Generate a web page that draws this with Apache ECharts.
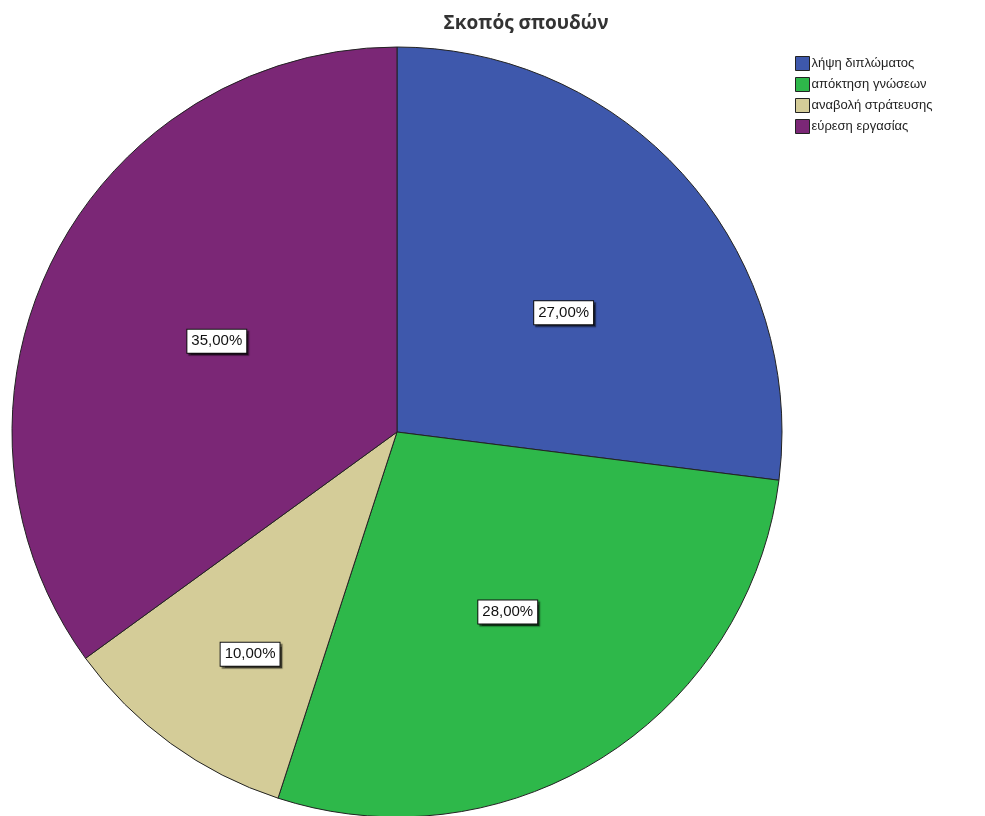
<!DOCTYPE html>
<html><head><meta charset="utf-8">
<script src="https://cdn.jsdelivr.net/npm/echarts@6/dist/echarts.min.js"></script>
<style>html,body{margin:0;padding:0;background:#fff}#c{width:985px;height:816px}</style>
</head><body><div id="c"></div>
<script>
const categories = ["λήψη διπλώματος", "απόκτηση γνώσεων", "αναβολή στράτευσης", "εύρεση εργασίας"];
const values = [27, 28, 10, 35];
const colors = ["#3E58AC", "#2EB84A", "#D4CC98", "#7B2776"];
const labelOffsets = [[20, 10], [6, 15], [-32, 64], [-6, -2]];
const chart = echarts.init(document.getElementById('c'));
chart.setOption({
  animation: false,
  title: {text: "Σκοπός σπουδών", left: 521, top: 9, textAlign: 'center',
    textStyle: {fontFamily: 'Open Sans', fontSize: 19, fontWeight: 'bold', color: '#333'}},
  legend: {orient: 'vertical', left: 790, top: 51, itemWidth: 14, itemHeight: 14, itemGap: 6,
    icon: 'rect', data: categories,
    itemStyle: {borderColor: '#222', borderWidth: 1},
    textStyle: {fontFamily: 'Liberation Sans', fontSize: 13, color: '#222', padding: [0,0,0,-3]}},
  series: [{
    type: 'pie', center: [397, 432], radius: 385, startAngle: 90, clockwise: true,
    data: categories.map((n, i) => ({name: n, value: values[i], itemStyle: {color: colors[i]},
      label: {offset: labelOffsets[i]}})),
    itemStyle: {borderColor: '#222', borderWidth: 1},
    label: {position: 'inside', formatter: p => p.value.toFixed(2).replace('.', ',') + '%',
      fontFamily: 'Liberation Sans', fontSize: 15, color: '#111', backgroundColor: '#fff',
      borderColor: '#111', borderWidth: 1, padding: [5, 4, 3, 4],
      shadowColor: 'rgba(0,0,0,0.5)', shadowOffsetX: 2, shadowOffsetY: 2, shadowBlur: 1},
    labelLine: {show: false},
    emphasis: {disabled: true}
  }]
});
</script></body></html>
